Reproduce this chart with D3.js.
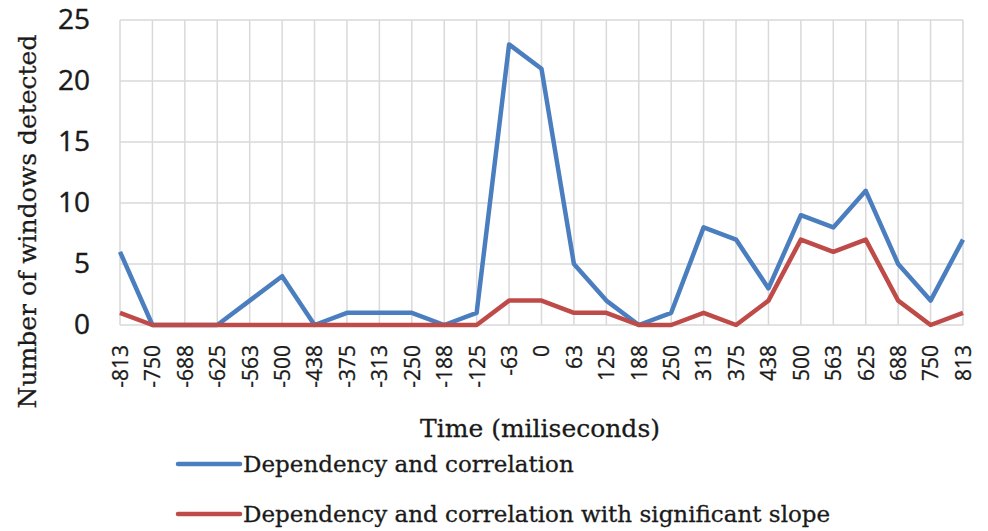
<!DOCTYPE html>
<html>
<head>
<meta charset="utf-8">
<script src="https://cdn.jsdelivr.net/npm/d3@7"></script>
<style>
  body { margin: 0; background: #fff; }
  .grid line { stroke: #d9d9d9; stroke-width: 1.5; }
  .tick text { fill: #1a1a1a; }
</style>
</head>
<body>
<div id="chart"></div>
<script>
// categories and series
var times = ["-813","-750","-688","-625","-563","-500","-438","-375","-313","-250","-188","-125","-63","0",
             "63","125","188","250","313","375","438","500","563","625","688","750","813"];
var depCorr = [6,0,0,0,2,4,0,1,1,1,0,1,23,21,5,2,0,1,8,7,3,9,8,11,5,2,7];
var depCorrSlope = [1,0,0,0,0,0,0,0,0,0,0,0,2,2,1,1,0,0,1,0,2,7,6,7,2,0,1];
var yTicks = [0,5,10,15,20,25];

var series = [
  { name: "Dependency and correlation", values: depCorr, color: "#4a7ebf" },
  { name: "Dependency and correlation with significant slope", values: depCorrSlope, color: "#be4b48" }
];

var width = 988, height = 531;
var margin = { top: 20, right: 25, bottom: 206, left: 120 };

var svg = d3.select("#chart")
  .append("svg")
    .attr("width", width)
    .attr("height", height);

var x = d3.scalePoint()
    .domain(times)
    .range([margin.left, width - margin.right]);

var y = d3.scaleLinear()
    .domain([0, 25])
    .range([height - margin.bottom, margin.top]);

// grid
var grid = svg.append("g").attr("class", "grid");
grid.selectAll("line.h")
  .data(yTicks)
  .enter().append("line")
    .attr("x1", margin.left).attr("x2", width - margin.right)
    .attr("y1", d => y(d)).attr("y2", d => y(d));
grid.selectAll("line.v")
  .data(times)
  .enter().append("line")
    .attr("x1", d => x(d)).attr("x2", d => x(d))
    .attr("y1", y(0)).attr("y2", y(25));

var sans = "'Open Sans', 'DejaVu Sans', sans-serif";
var serif = "'DejaVu Serif', 'Liberation Serif', serif";

// y axis labels
svg.append("g")
    .attr("transform", "translate(" + (margin.left - 30) + ",0)")
    .call(d3.axisLeft(y).tickValues(yTicks).tickSize(0).tickPadding(0))
    .call(g => g.select(".domain").remove())
    .selectAll("text")
      .style("font-family", sans)
      .style("font-size", "28px")
      .style("stroke", "#1a1a1a").style("stroke-width", "0.4px");

// x axis labels, rotated
svg.append("g")
    .attr("transform", "translate(0," + (y(0) + 20) + ")")
    .call(d3.axisBottom(x).tickSize(0).tickPadding(0))
    .call(g => g.select(".domain").remove())
    .selectAll("text")
      .style("font-family", sans)
      .style("font-size", "21px")
      .style("stroke", "#1a1a1a").style("stroke-width", "0.3px")
      .attr("transform", "rotate(-90)")
      .attr("dy", "0.35em")
      .attr("x", 0)
      .attr("y", 0)
      .style("text-anchor", "end");

// lines
var line = d3.line()
    .x((d, i) => x(times[i]))
    .y(d => y(d));

svg.selectAll("path.series")
  .data(series)
  .enter().append("path")
    .attr("class", "series")
    .attr("fill", "none")
    .attr("stroke", d => d.color)
    .attr("stroke-width", 4.5)
    .attr("stroke-linejoin", "round")
    .attr("d", d => line(d.values));

// axis titles
svg.append("text")
    .attr("transform", "translate(27," + ((33 + 410) / 2) + ") rotate(-90)")
    .attr("text-anchor", "middle")
    .attr("dy", "0.35em")
    .style("font-family", serif)
    .style("font-size", "25px")
    .style("fill", "#1a1a1a").style("stroke", "#1a1a1a").style("stroke-width", "0.3px")
    .text("Number of windows detected");

svg.append("text")
    .attr("x", 540)
    .attr("y", 428)
    .attr("text-anchor", "middle")
    .attr("dy", "0.35em")
    .style("font-family", serif)
    .style("font-size", "25px")
    .style("fill", "#1a1a1a").style("stroke", "#1a1a1a").style("stroke-width", "0.3px")
    .text("Time (miliseconds)");

// legend
var legend = svg.selectAll("g.legend")
  .data(series)
  .enter().append("g")
    .attr("class", "legend")
    .attr("transform", (d, i) => "translate(178," + (464 + i * 50) + ")");
legend.append("line")
    .attr("x1", 0).attr("x2", 62)
    .attr("stroke", d => d.color)
    .attr("stroke-width", 4.5)
    .attr("stroke-linecap", "round");
legend.append("text")
    .attr("x", 65)
    .attr("dy", "0.35em")
    .style("font-family", serif)
    .style("font-size", "23px")
    .style("fill", "#1a1a1a").style("stroke", "#1a1a1a").style("stroke-width", "0.3px")
    .text(d => d.name);
</script>
</body>
</html>
